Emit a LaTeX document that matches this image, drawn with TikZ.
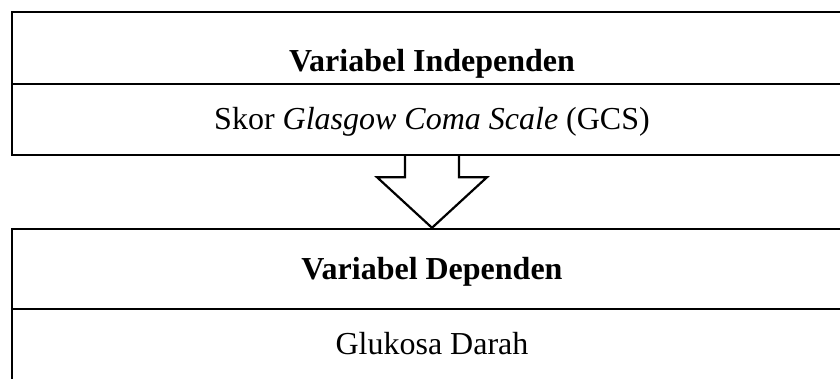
\documentclass[tikz,border=0pt]{standalone}
\usepackage{fontspec}
\setmainfont{Liberation Serif}
\usetikzlibrary{calc}

\begin{document}
\begin{tikzpicture}[x=1pt,y=1pt,
    varbox/.style={draw, line width=2.4pt, minimum width=840pt, inner sep=0pt},
    vartext/.style={anchor=base, inner sep=0pt, font=\fontsize{32}{38}\selectfont}]
  \clip (0,0) rectangle (840,378);
  \node[varbox, minimum height=143pt] (indep) at (432,294.5) {};
  \node[varbox, minimum height=160pt] (dep) at (432,69) {};
  \draw[line width=2.4pt] ($(indep.north west)+(0,-73)$) -- ($(indep.north east)+(0,-73)$);
  \draw[line width=2.4pt] ($(dep.north west)+(0,-81)$) -- ($(dep.north east)+(0,-81)$);
  \node[vartext] (indeptitle) at ($(indep.north)+(0,-61)$) {\textbf{Variabel Independen}};
  \node[vartext] (indepname) at ($(indep.north)+(0,-119)$) {Skor \textit{Glasgow Coma Scale} (GCS)};
  \node[vartext] (deptitle) at ($(dep.north)+(0,-52)$) {\textbf{Variabel Dependen}};
  \node[vartext] (depname) at ($(dep.north)+(0,-127)$) {Glukosa Darah};
  % hollow block arrow
  \draw[line width=2.2pt, fill=white] ($(indep.south)+(-27,0)$) -- ++(0,-21) -- ++(-28,0)
    -- (dep.north) -- ($(indep.south)+(55,-21)$) -- ++(-28,0) -- ++(0,21);
\end{tikzpicture}
\end{document}
